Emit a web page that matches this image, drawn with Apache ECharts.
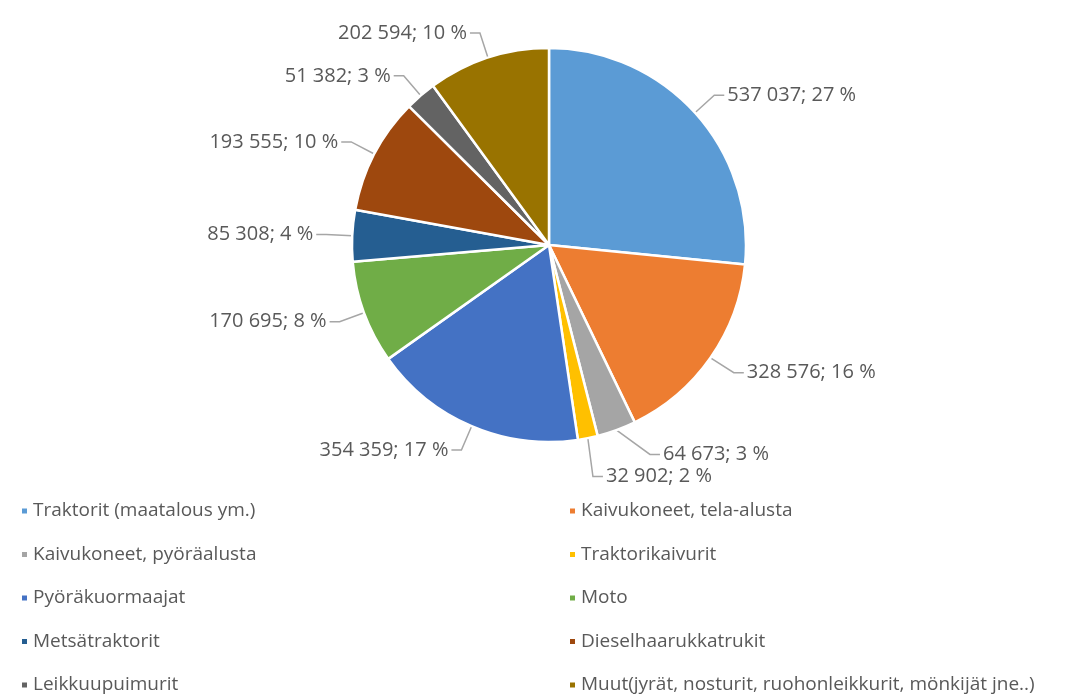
<!DOCTYPE html>
<html>
<head>
<meta charset="utf-8">
<script src="https://cdn.jsdelivr.net/npm/echarts@6/dist/echarts.min.js"></script>
<style>
  html, body { margin: 0; padding: 0; background: #fff; }
  #chart { width: 1078px; height: 697px; }
</style>
</head>
<body>
<div id="chart"></div>
<script>
// machine types and counts, in slice order (clockwise from 12 o'clock)
var categories = [
  'Traktorit (maatalous ym.)',
  'Kaivukoneet, tela-alusta',
  'Kaivukoneet, pyöräalusta',
  'Traktorikaivurit',
  'Pyöräkuormaajat',
  'Moto',
  'Metsätraktorit',
  'Dieselhaarukkatrukit',
  'Leikkuupuimurit',
  'Muut(jyrät, nosturit, ruohonleikkurit, mönkijät jne..)'
]
var values = [537037, 328576, 64673, 32902, 354359, 170695, 85308, 193555, 51382, 202594]
// shares as printed on the chart
var percents = [27, 16, 3, 2, 17, 8, 4, 10, 3, 10]
var colors = ['#5B9BD5', '#ED7D31', '#A5A5A5', '#FFC000', '#4472C4', '#70AD47', '#255E91', '#9E480E', '#636363', '#997300']

var font = '"Open Sans", "Noto Sans", sans-serif'
var textGray = '#595959'

function fmtNum(v) {
  return String(v).replace(/\B(?=(\d{3})+(?!\d))/g, ' ')
}

var pieData = categories.map(function (name, i) {
  return { name: name, value: values[i], pct: percents[i], itemStyle: { color: colors[i] } }
})

// legend is two columns: even indices left, odd indices right
var leftNames = categories.filter(function (c, i) { return i % 2 === 0 })
var rightNames = categories.filter(function (c, i) { return i % 2 === 1 })

var legendBase = {
  orient: 'vertical',
  top: 495,
  height: 220,
  itemWidth: 7,
  itemHeight: 7,
  itemGap: 21.5,
  icon: 'rect',
  selectedMode: false,
  textStyle: { color: textGray, fontSize: 19, fontFamily: font, lineHeight: 22 }
}

var chart = echarts.init(document.getElementById('chart'))
chart.setOption({
  backgroundColor: '#fff',
  animation: false,
  legend: [
    Object.assign({}, legendBase, { left: 15, data: leftNames }),
    Object.assign({}, legendBase, { left: 563, data: rightNames })
  ],
  series: [{
    type: 'pie',
    center: [549, 245],
    radius: 197,
    startAngle: 90,
    clockwise: true,
    data: pieData,
    itemStyle: { borderColor: '#fff', borderWidth: 2.5 },
    label: {
      show: true,
      position: 'outside',
      color: textGray,
      fontSize: 20,
      fontFamily: font,
      distanceToLabelLine: 3,
      formatter: function (p) {
        return fmtNum(p.value) + '; ' + p.data.pct + ' %'
      }
    },
    labelLine: {
      show: true,
      length: 26,
      length2: 10,
      lineStyle: { color: '#a6a6a6', width: 1.5 }
    }
  }]
})
</script>
</body>
</html>
